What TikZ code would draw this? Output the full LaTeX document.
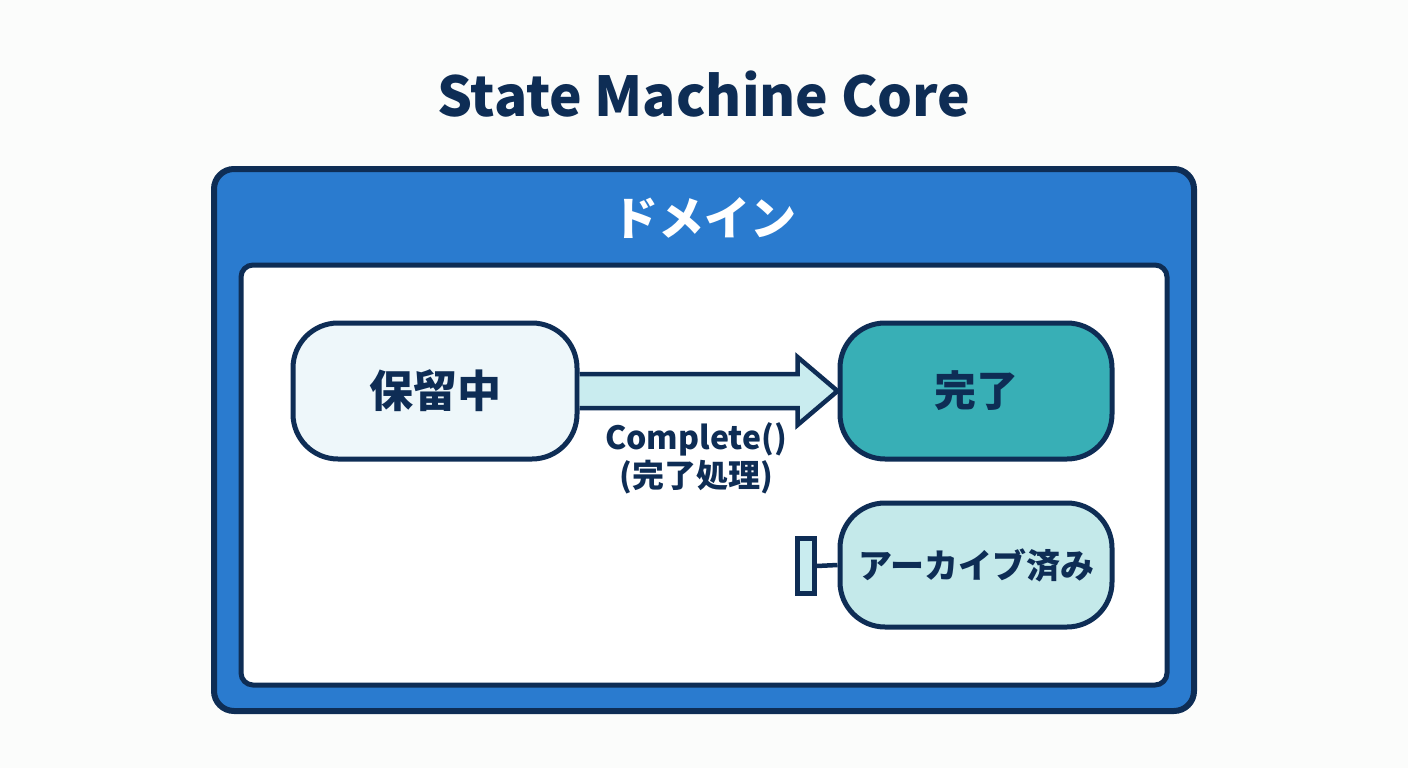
\documentclass[tikz,border=0pt]{standalone}
\usepackage{fontspec}
\setmainfont{Noto Sans CJK JP}
\usetikzlibrary{calc}
\definecolor{navy}{HTML}{0E2D55}
\definecolor{domainblue}{HTML}{2A7BCF}
\definecolor{pendfill}{HTML}{EEF7FA}
\definecolor{donefill}{HTML}{38AFB6}
\definecolor{archfill}{HTML}{C4E9EA}
\definecolor{arrowfill}{HTML}{C9ECEF}
\definecolor{bg}{HTML}{FBFCFB}
\tikzset{
  statebox/.style={draw=navy,line width=5pt,rounded corners=45pt,minimum width=284pt,
    text=navy,font=\bfseries\fontsize{44}{50}\selectfont},
  blockarrow/.style={draw=navy,fill=arrowfill,line width=4.5pt,line join=miter},
}
\begin{document}
\begin{tikzpicture}[x=1pt,y=-1pt]
\fill[bg] (0,0) rectangle (1408,768);
\useasboundingbox (0,0) rectangle (1408,768);
\node[text=navy,font=\bfseries\fontsize{55}{60}\selectfont] (title) at (704,94) {State Machine Core};
% domain frame
\node[draw=navy,fill=domainblue,line width=6pt,rounded corners=20pt,minimum width=980pt,minimum height=542pt] (domain) at (704,440) {};
\node[text=white,font=\bfseries\fontsize{46}{50}\selectfont] (domainlabel) at (704,218) {ドメイン};
\node[draw=navy,fill=white,line width=5pt,rounded corners=12pt,minimum width=926pt,minimum height=420pt] (inner) at (704,475) {};
% states
\node[statebox,fill=pendfill,minimum height=136pt] (pend) at (435,391) {保留中};
\node[statebox,fill=donefill,minimum width=272pt,minimum height=136pt,font=\bfseries\fontsize{42}{50}\selectfont] (done) at (976,391) {完了};
\node[statebox,fill=archfill,minimum width=272pt,minimum height=124pt,font=\bfseries\fontsize{34}{40}\selectfont] (arch) at (976,565) {アーカイブ済み};
% transition
\path (pend.east) coordinate (s) (done.west) coordinate (t);
\draw[blockarrow] ($(s)+(0,-17)$) -- ($(t)+(-40,-17)$) -- ($(t)+(-40,-34)$) -- (t)
  -- ($(t)+(-40,34)$) -- ($(t)+(-40,17)$) -- ($(s)+(0,17)$);
\node[text=navy,font=\bfseries\fontsize{32}{38}\selectfont,align=center] (trans) at (696,458) {Complete()\\(完了処理)};
% final marker
\node[draw=navy,fill=arrowfill,line width=4.5pt,minimum width=17pt,minimum height=55pt,inner sep=0pt] (stop) at (806,566) {};
\draw[navy,line width=4.5pt] (stop.east) -- (arch.west);
\end{tikzpicture}
\end{document}
